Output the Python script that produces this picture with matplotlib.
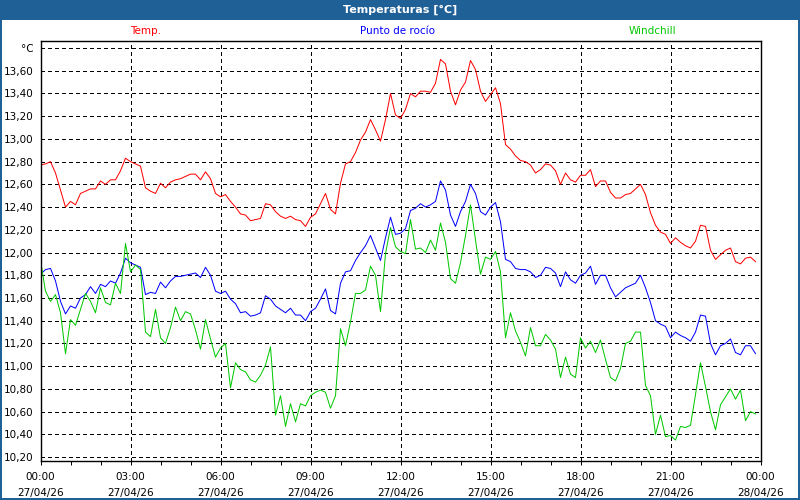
import numpy as np
import pandas as pd
import matplotlib
matplotlib.use('Agg')
import matplotlib.pyplot as plt
import matplotlib.dates as mdates
from matplotlib.patches import Rectangle

# readings every 10 minutes, 27/04/26 00:00 .. 23:50
times = pd.date_range('2026-04-27 00:00', periods=144, freq='10min')

temp = [12.77, 12.78, 12.80, 12.70, 12.55, 12.40, 12.45, 12.42, 12.52, 12.54, 12.56, 12.56,
        12.63, 12.60, 12.64, 12.64, 12.72, 12.83, 12.80, 12.78, 12.76, 12.57, 12.54, 12.52,
        12.61, 12.57, 12.62, 12.64, 12.65, 12.67, 12.69, 12.69, 12.64, 12.71, 12.65, 12.52,
        12.49, 12.51, 12.45, 12.40, 12.34, 12.33, 12.28, 12.29, 12.30, 12.43, 12.42, 12.36,
        12.32, 12.30, 12.32, 12.29, 12.28, 12.23, 12.31, 12.34, 12.43, 12.52, 12.38, 12.34,
        12.61, 12.78, 12.80, 12.88, 12.99, 13.06, 13.17, 13.08, 12.98, 13.17, 13.40, 13.21,
        13.18, 13.26, 13.40, 13.37, 13.42, 13.42, 13.41, 13.49, 13.70, 13.66, 13.42, 13.30,
        13.43, 13.50, 13.69, 13.61, 13.42, 13.33, 13.39, 13.45, 13.31, 12.95, 12.91, 12.85,
        12.81, 12.80, 12.77, 12.70, 12.73, 12.78, 12.77, 12.72, 12.60, 12.70, 12.64, 12.62,
        12.68, 12.68, 12.73, 12.58, 12.63, 12.63, 12.53, 12.48, 12.48, 12.51, 12.52, 12.56,
        12.60, 12.51, 12.35, 12.24, 12.18, 12.16, 12.08, 12.13, 12.09, 12.06, 12.04, 12.10,
        12.24, 12.23, 12.02, 11.94, 11.98, 12.02, 12.04, 11.92, 11.90, 11.95, 11.96, 11.92]

dewpoint = [11.81, 11.85, 11.86, 11.75, 11.57, 11.46, 11.53, 11.51, 11.60, 11.63, 11.70, 11.64,
            11.72, 11.70, 11.75, 11.73, 11.82, 11.95, 11.91, 11.89, 11.87, 11.63, 11.65, 11.64,
            11.74, 11.69, 11.75, 11.79, 11.79, 11.80, 11.81, 11.82, 11.78, 11.87, 11.80, 11.66,
            11.64, 11.66, 11.59, 11.55, 11.47, 11.48, 11.44, 11.45, 11.47, 11.62, 11.59, 11.53,
            11.50, 11.47, 11.51, 11.45, 11.45, 11.40, 11.48, 11.51, 11.59, 11.68, 11.49, 11.46,
            11.73, 11.83, 11.84, 11.93, 12.00, 12.06, 12.15, 12.04, 11.93, 12.13, 12.31, 12.16,
            12.17, 12.21, 12.37, 12.39, 12.43, 12.40, 12.42, 12.45, 12.63, 12.55, 12.33, 12.23,
            12.36, 12.45, 12.60, 12.52, 12.36, 12.33, 12.40, 12.44, 12.27, 11.94, 11.92, 11.86,
            11.85, 11.85, 11.83, 11.78, 11.80, 11.87, 11.86, 11.82, 11.70, 11.83, 11.76, 11.73,
            11.80, 11.82, 11.88, 11.72, 11.80, 11.80, 11.69, 11.61, 11.65, 11.69, 11.71, 11.73,
            11.80, 11.69, 11.56, 11.40, 11.37, 11.35, 11.25, 11.30, 11.27, 11.25, 11.22, 11.30,
            11.45, 11.44, 11.20, 11.10, 11.18, 11.20, 11.24, 11.12, 11.10, 11.18, 11.18, 11.11]

windchill = [11.93, 11.66, 11.57, 11.63, 11.47, 11.11, 11.41, 11.36, 11.50, 11.64, 11.57, 11.47,
             11.69, 11.56, 11.54, 11.73, 11.64, 12.08, 11.83, 11.89, 11.85, 11.30, 11.26, 11.50,
             11.25, 11.20, 11.34, 11.52, 11.40, 11.48, 11.46, 11.32, 11.15, 11.41, 11.24, 11.08,
             11.16, 11.20, 10.81, 11.03, 10.97, 10.95, 10.88, 10.86, 10.92, 11.01, 11.17, 10.57,
             10.74, 10.47, 10.67, 10.51, 10.67, 10.65, 10.74, 10.77, 10.79, 10.77, 10.63, 10.74,
             11.33, 11.18, 11.39, 11.64, 11.64, 11.67, 11.88, 11.80, 11.48, 11.99, 12.22, 12.05,
             12.01, 11.99, 12.29, 12.03, 12.04, 12.00, 12.11, 12.02, 12.26, 12.09, 11.77, 11.73,
             11.91, 12.15, 12.42, 12.11, 11.81, 11.96, 11.94, 12.01, 11.83, 11.25, 11.47, 11.31,
             11.21, 11.09, 11.34, 11.18, 11.18, 11.28, 11.23, 11.15, 10.90, 11.08, 10.93, 10.90,
             11.25, 11.16, 11.22, 11.12, 11.23, 11.06, 10.90, 10.87, 10.98, 11.20, 11.22, 11.30,
             11.30, 10.83, 10.74, 10.40, 10.57, 10.38, 10.39, 10.35, 10.47, 10.46, 10.48, 10.75,
             11.03, 10.82, 10.60, 10.44, 10.66, 10.73, 10.80, 10.71, 10.79, 10.52, 10.60, 10.58]

series_names = ['Temp.', 'Punto de rocío', 'Windchill']
series_colors = ['#ff0000', '#0000ff', '#00c800']

yticks = np.round(np.arange(10.2, 13.81, 0.2), 2)
ytick_labels = [f'{v:.2f}'.replace('.', ',') for v in yticks]
ytick_labels[-1] = '°C'

bar_blue = '#1f6097'
px = 1 / 100 * 72  # one pixel in points

fig = plt.figure(figsize=(8, 5), dpi=100)
ax = fig.add_axes([40.5 / 800, 1 - 460.5 / 500, 720 / 800, 420 / 500])

for vals, color in zip([temp, dewpoint, windchill], series_colors):
    ax.plot(times, vals, color=color, linewidth=1.0 * px)

ax.set_xlim(pd.Timestamp('2026-04-27 00:00'), pd.Timestamp('2026-04-28 00:00'))
ax.set_ylim(10.17, 13.866)

ax.xaxis.set_major_locator(mdates.HourLocator(byhour=range(0, 24, 3)))
ax.xaxis.set_minor_locator(mdates.HourLocator())
ax.xaxis.set_major_formatter(mdates.DateFormatter('%H:%M\n%d/%m/%y'))
ax.tick_params(axis='x', which='both', direction='out', length=3, width=px,
               labelsize=7.5, pad=5)
ax.tick_params(axis='y', length=0, labelsize=7.5, pad=5)
for lbl in ax.get_xticklabels():
    lbl.set_linespacing(1.75)

ax.set_yticks(yticks)
ax.set_yticklabels(ytick_labels)

ax.grid(True, which='major', color='black', linestyle=(0, (3, 3)), linewidth=px,
        antialiased=False)
for sp in ax.spines.values():
    sp.set_linewidth(1.4 * px)

# title bar and frame
fig.patches.append(Rectangle((0, 1 - 20 / 500), 1, 20 / 500, transform=fig.transFigure,
                             facecolor=bar_blue, edgecolor='none', zorder=0))
fig.patches.append(Rectangle((0, 0), 1, 1, transform=fig.transFigure, fill=False,
                             edgecolor=bar_blue, linewidth=4 * px, zorder=5))
fig.text(0.5, 1 - 10 / 500, 'Temperaturas [°C]', color='white', fontweight='bold',
         fontsize=8, ha='center', va='center')

for name, color, xpix in zip(series_names, series_colors, [146, 398, 652]):
    fig.text(xpix / 800, 1 - 31 / 500, name, color=color, fontsize=7.5,
             ha='center', va='center')

fig.savefig('out.png', dpi=100)
